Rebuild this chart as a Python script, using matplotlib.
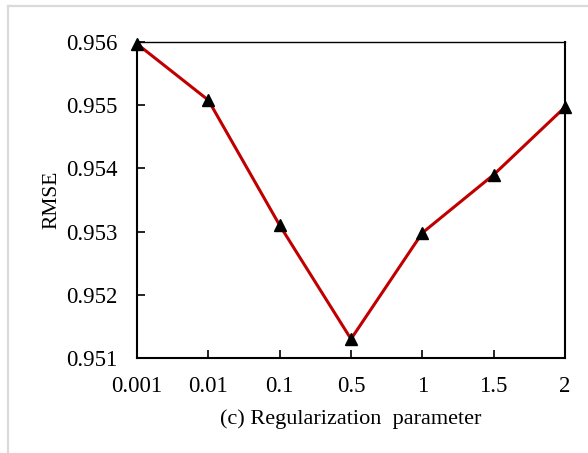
import matplotlib
matplotlib.use("Agg")
import matplotlib.pyplot as plt
from matplotlib.lines import Line2D

# regularization parameter vs RMSE
params = ["0.001", "0.01", "0.1", "0.5", "1", "1.5", "2"]
rmse = [0.95597, 0.95508, 0.95310, 0.95130, 0.95298, 0.95390, 0.95497]
yticks = [0.951, 0.952, 0.953, 0.954, 0.955, 0.956]

plt.rcParams['font.family'] = ['Liberation Serif', 'DejaVu Serif']

fig = plt.figure(figsize=(5.88, 4.53), dpi=100)
ax = fig.add_axes([137 / 588, 1 - 358 / 453, 428 / 588, 316 / 453])

xs = list(range(len(params)))
ax.plot(xs, rmse, color='#c00000', lw=2.2, zorder=2)
ax.plot(xs, rmse, ls='none', marker='^', ms=8.5, color='black', zorder=3,
        clip_on=False)

ax.set_xlim(0, len(params) - 1)
ax.set_ylim(0.951, 0.956)
ax.set_xticks(xs)
ax.set_xticklabels(params)
ax.set_yticks(yticks)
ax.set_yticklabels(['%.3f' % v for v in yticks])
ax.tick_params(direction='in', length=6, width=1.2, labelsize=16.5)
ax.tick_params(axis='y', pad=14)
ax.tick_params(axis='x', pad=13)

for side in ['left', 'bottom', 'right']:
    ax.spines[side].set_linewidth(1.5)
ax.spines['top'].set_linewidth(1.0)

ax.set_ylabel('RMSE', fontsize=15.5, labelpad=3)
ax.set_xlabel('(c) Regularization  parameter', fontsize=16, labelpad=9)

# light frame around the figure (top and left)
fig.add_artist(Line2D([8 / 588, 1], [1 - 5.5 / 453, 1 - 5.5 / 453],
                      color='#dadada', lw=1.6))
fig.add_artist(Line2D([8 / 588, 8 / 588], [0, 1 - 5.5 / 453],
                      color='#dadada', lw=1.6))

fig.savefig('out.png', dpi=100)
